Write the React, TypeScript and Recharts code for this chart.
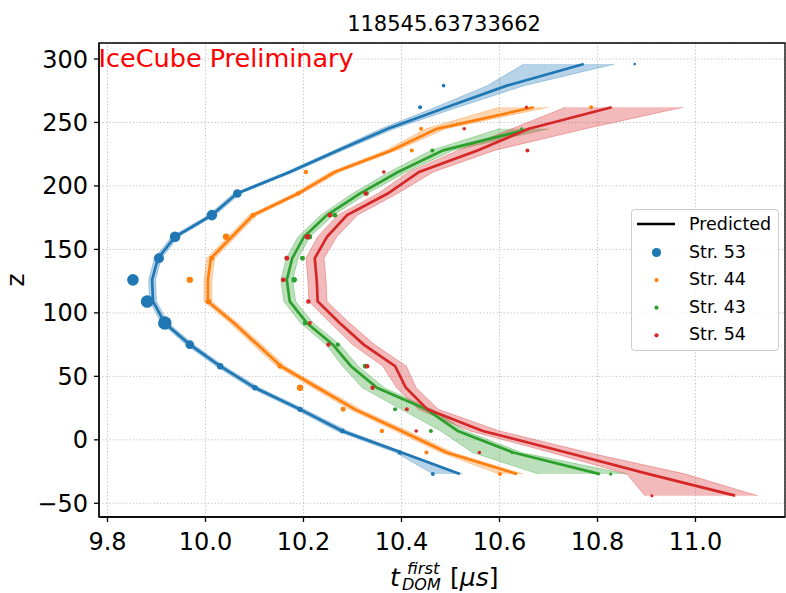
import React from 'react';
import {
  ComposedChart,
  Line,
  Area,
  Scatter,
  XAxis,
  YAxis,
  ZAxis,
  CartesianGrid,
  ReferenceArea,
} from 'recharts';

// ---------- axes ----------
const X_TICKS = [9.8, 10.0, 10.2, 10.4, 10.6, 10.8, 11.0];
const Y_TICKS = [-50, 0, 50, 100, 150, 200, 250, 300];
const X_DOMAIN: [number, number] = [9.7827, 11.1827];
const Y_DOMAIN: [number, number] = [-60.8, 312.6];

const TITLE = '118545.63733662';
const WATERMARK = 'IceCube Preliminary';

// ---------- predicted curves (z, t, band low, band high) ----------
const str53Z = [296, 279, 262, 245, 228, 211, 194, 177, 160, 143, 126, 109, 92, 75, 58, 41, 24, 7, -10, -27];
const str53Pred = [10.772, 10.615, 10.492, 10.372, 10.27, 10.172, 10.064, 10.013, 9.938, 9.903, 9.891, 9.893, 9.917, 9.968, 10.03, 10.101, 10.193, 10.279, 10.4, 10.519];
const str53Lo = [10.65, 10.575, 10.47, 10.358, 10.262, 10.165, 10.057, 10.006, 9.931, 9.896, 9.884, 9.886, 9.91, 9.96, 10.022, 10.092, 10.184, 10.268, 10.388, 10.465];
const str53Hi = [10.835, 10.65, 10.515, 10.385, 10.28, 10.18, 10.071, 10.02, 9.945, 9.91, 9.898, 9.9, 9.924, 9.976, 10.038, 10.11, 10.202, 10.29, 10.406, 10.525];

const str44Z = [262, 245, 228, 211, 194, 177, 160, 143, 126, 109, 92, 75, 58, 41, 24, 7, -10, -27];
const str44Pred = [10.67, 10.472, 10.379, 10.264, 10.189, 10.097, 10.054, 10.011, 10.005, 10.005, 10.058, 10.106, 10.154, 10.229, 10.305, 10.4, 10.492, 10.636];
const str44Lo = [10.6, 10.45, 10.368, 10.255, 10.181, 10.089, 10.046, 10.003, 9.997, 9.997, 10.05, 10.097, 10.145, 10.219, 10.294, 10.388, 10.48, 10.6];
const str44Hi = [10.7, 10.49, 10.39, 10.273, 10.197, 10.105, 10.062, 10.019, 10.013, 10.013, 10.066, 10.115, 10.163, 10.239, 10.316, 10.412, 10.505, 10.648];

const str43Z = [245, 228, 211, 194, 177, 160, 143, 126, 109, 92, 75, 58, 41, 24, 7, -10, -27];
const str43Pred = [10.662, 10.485, 10.393, 10.315, 10.248, 10.201, 10.177, 10.166, 10.172, 10.207, 10.26, 10.297, 10.35, 10.451, 10.515, 10.628, 10.805];
const str43Lo = [10.6, 10.46, 10.375, 10.3, 10.235, 10.189, 10.165, 10.154, 10.16, 10.194, 10.246, 10.28, 10.32, 10.4, 10.48, 10.545, 10.68];
const str43Hi = [10.7, 10.505, 10.41, 10.33, 10.261, 10.213, 10.189, 10.178, 10.184, 10.22, 10.274, 10.312, 10.365, 10.462, 10.53, 10.645, 10.86];

const str54Z = [262, 245, 228, 211, 194, 177, 160, 143, 126, 109, 92, 75, 58, 41, 24, 7, -10, -27, -44];
const str54Pred = [10.829, 10.66, 10.555, 10.436, 10.372, 10.289, 10.248, 10.223, 10.227, 10.229, 10.274, 10.323, 10.387, 10.409, 10.453, 10.566, 10.737, 10.905, 11.081];
const str54Lo = [10.735, 10.625, 10.515, 10.415, 10.352, 10.27, 10.229, 10.205, 10.209, 10.211, 10.255, 10.3, 10.362, 10.39, 10.435, 10.54, 10.705, 10.86, 10.897];
const str54Hi = [10.975, 10.775, 10.59, 10.465, 10.392, 10.31, 10.268, 10.242, 10.246, 10.248, 10.294, 10.345, 10.41, 10.43, 10.475, 10.6, 10.78, 10.98, 11.127];

// ---------- observed hits (z, t, charge) ----------
const obs53Z = [296, 279, 262, 194, 177, 160, 143, 126, 109, 92, 75, 58, 41, 24, 7, -10, -27];
const obs53T = [10.876, 10.486, 10.438, 10.065, 10.013, 9.938, 9.905, 9.852, 9.881, 9.917, 9.968, 10.03, 10.101, 10.193, 10.279, 10.397, 10.464];
const obs53Q = [1.7, 3.2, 4, 18.5, 28, 28, 25, 33.6, 39.7, 46, 18.5, 10.2, 7.8, 6.8, 6.2, 5.3, 4];

const obs44Z = [262, 245, 228, 211, 194, 177, 160, 143, 126, 109, 58, 41, 24, 7, -10, -27];
const obs44T = [10.787, 10.44, 10.421, 10.205, 10.189, 10.097, 10.042, 10.013, 9.968, 10.006, 10.152, 10.193, 10.281, 10.36, 10.451, 10.601];
const obs44Q = [4, 4, 4, 4.8, 4.8, 6.2, 10.2, 6.2, 10.2, 7.8, 6.2, 10.2, 6.2, 4.8, 4, 4];

const obs43Z = [245, 228, 194, 177, 160, 143, 126, 92, 75, 58, 24, 7, -10, -27];
const obs43T = [10.645, 10.463, 10.329, 10.264, 10.212, 10.198, 10.181, 10.203, 10.27, 10.326, 10.387, 10.46, 10.626, 10.827];
const obs43Q = [2.6, 4, 4.8, 6.2, 7.8, 6.2, 7.8, 4.8, 4.8, 6.2, 4, 4, 3.2, 2.6];

const obs54Z = [262, 245, 228, 211, 194, 177, 160, 143, 126, 109, 92, 75, 58, 41, 24, 7, -10, -44];
const obs54T = [10.655, 10.528, 10.657, 10.364, 10.327, 10.254, 10.208, 10.166, 10.159, 10.21, 10.213, 10.251, 10.33, 10.341, 10.411, 10.43, 10.559, 10.911];
const obs54Q = [2.6, 3.2, 4, 3.2, 4.8, 6.2, 7.8, 6.2, 6.2, 5.3, 4, 4.8, 4.8, 4.8, 4, 3.2, 3.2, 2.3];

const SERIES_NAMES = ['Str. 53', 'Str. 44', 'Str. 43', 'Str. 54'];
const COLORS = ['#1f77b4', '#ff7f0e', '#2ca02c', '#d62728'];

const buildPred = (z: number[], t: number[], lo: number[], hi: number[]) =>
  z.map((zz, i) => ({ z: zz, x: t[i], band: [lo[i], hi[i]] }));
const buildObs = (z: number[], t: number[], q: number[]) =>
  z.map((zz, i) => ({ z: zz, x: t[i], q: q[i] }));

const PRED = [
  buildPred(str53Z, str53Pred, str53Lo, str53Hi),
  buildPred(str44Z, str44Pred, str44Lo, str44Hi),
  buildPred(str43Z, str43Pred, str43Lo, str43Hi),
  buildPred(str54Z, str54Pred, str54Lo, str54Hi),
];
const OBS = [
  buildObs(obs53Z, obs53T, obs53Q),
  buildObs(obs44Z, obs44T, obs44Q),
  buildObs(obs43Z, obs43T, obs43Q),
  buildObs(obs54Z, obs54T, obs54Q),
];

const FONT = '"DejaVu Sans", Verdana, sans-serif';
const fmtY = (v: number) => (v < 0 ? '\u2212' + Math.abs(v) : String(v));

const LEGEND_MARKER_R = [4.6, 2.1, 2.1, 2.1];

export default function App() {
  return (
    <div style={{ position: 'absolute', left: 0, top: 0, width: 786, height: 593, background: '#fff' }}>
      <ComposedChart
        layout="vertical"
        width={786}
        height={593}
        margin={{ top: 43, right: 1, bottom: 0, left: 0 }}
      >
        <CartesianGrid stroke="#b8b8b8" strokeDasharray="1.2 2.2" strokeWidth={0.9} />
        <XAxis
          type="number"
          dataKey="x"
          domain={X_DOMAIN}
          ticks={X_TICKS}
          allowDataOverflow
          height={76}
          tickFormatter={(v: number) => v.toFixed(1)}
          tick={{ fontSize: 24, fill: '#000', fontFamily: FONT }}
          tickSize={5}
          tickMargin={11}
          axisLine={{ stroke: '#000', strokeWidth: 1.3 }}
          tickLine={{ stroke: '#000', strokeWidth: 1.3 }}
        />
        <YAxis
          type="number"
          dataKey="z"
          domain={Y_DOMAIN}
          ticks={Y_TICKS}
          allowDataOverflow
          reversed
          width={99}
          tickFormatter={fmtY}
          tick={{ fontSize: 24, fill: '#000', fontFamily: FONT }}
          tickSize={5}
          tickMargin={6}
          axisLine={{ stroke: '#000', strokeWidth: 1.3 }}
          tickLine={{ stroke: '#000', strokeWidth: 1.3 }}
        />
        <ZAxis type="number" dataKey="q" domain={[0, 50]} range={[0, 50 * Math.PI]} />
        {PRED.map((d, i) => (
          <Area
            key={'a' + i}
            data={d}
            dataKey="band"
            type="linear"
            fill={COLORS[i]}
            fillOpacity={0.32}
            stroke={COLORS[i]}
            strokeOpacity={0.32}
            strokeWidth={1}
            isAnimationActive={false}
          />
        ))}
        {PRED.map((d, i) => (
          <Line
            key={'l' + i}
            data={d}
            dataKey="x"
            type="linear"
            stroke={COLORS[i]}
            strokeWidth={2.7}
            dot={false}
            activeDot={false}
            isAnimationActive={false}
          />
        ))}
        {OBS.map((d, i) => (
          <Scatter
            key={'s' + i}
            name={SERIES_NAMES[i]}
            data={d}
            fill={COLORS[i]}
            isAnimationActive={false}
          />
        ))}
        <ReferenceArea
          x1={X_DOMAIN[0]}
          x2={X_DOMAIN[1]}
          y1={Y_DOMAIN[0]}
          y2={Y_DOMAIN[1]}
          fill="none"
          fillOpacity={0}
          stroke="#000"
          strokeWidth={1.3}
          strokeOpacity={1}
        />
      </ComposedChart>
      <svg
        width={786}
        height={593}
        style={{ position: 'absolute', left: 0, top: 0, pointerEvents: 'none' }}
        fontFamily={FONT}
      >
        <text x={444} y={31} fontSize={21} textAnchor="middle" fill="#000">
          {TITLE}
        </text>
        <text x={98.5} y={66.5} fontSize={25.5} fill="#ff0000">
          {WATERMARK}
        </text>
        <text x={24} y={280} fontSize={25} textAnchor="middle" fill="#000" transform="rotate(-90 24 280)">
          z
        </text>
        <text x={390} y={586} fontSize={25} fill="#000">
          <tspan fontStyle="italic">t</tspan>
          <tspan x={407} y={573.5} fontSize={16.5} fontStyle="italic">first</tspan>
          <tspan x={402} y={590} fontSize={16} fontStyle="italic">DOM</tspan>
          <tspan x={450} y={586}>[</tspan>
          <tspan fontStyle="italic">μs</tspan>
          <tspan>]</tspan>
        </text>
        <g>
          <rect x={631.5} y={209.5} width={147} height={141} rx={3} ry={3} fill="#fff" fillOpacity={0.8} stroke="#cccccc" strokeWidth={1} />
          <line x1={637} y1={224} x2={675} y2={224} stroke="#000" strokeWidth={2.7} />
          <text x={689} y={229.5} fontSize={17.5} fill="#000">Predicted</text>
          {SERIES_NAMES.map((n, i) => (
            <g key={n}>
              <circle cx={656.5} cy={252.5 + i * 27.6} r={LEGEND_MARKER_R[i]} fill={COLORS[i]} />
              <text x={689} y={257.5 + i * 27.6} fontSize={17.5} fill="#000">{n}</text>
            </g>
          ))}
        </g>
      </svg>
    </div>
  );
}
